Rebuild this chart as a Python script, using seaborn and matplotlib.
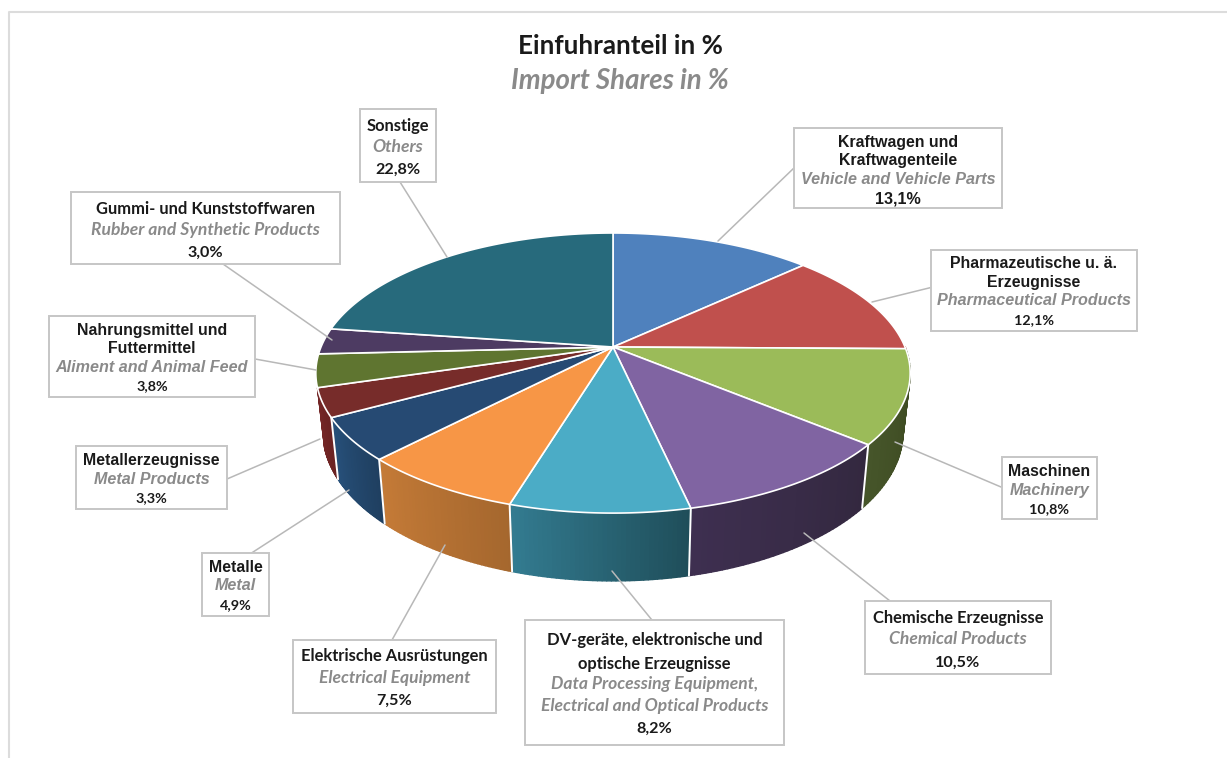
import matplotlib
matplotlib.use("Agg")
import matplotlib.pyplot as plt
from matplotlib.collections import PolyCollection
from matplotlib.colors import to_rgb
from matplotlib.patches import Rectangle
import numpy as np
import seaborn as sns

# Chart data
names_de = ["Kraftwagen und\nKraftwagenteile", "Pharmazeutische u. ä.\nErzeugnisse", "Maschinen",
            "Chemische Erzeugnisse", "DV-geräte, elektronische und\noptische Erzeugnisse",
            "Elektrische Ausrüstungen", "Metalle", "Metallerzeugnisse",
            "Nahrungsmittel und\nFuttermittel", "Gummi- und Kunststoffwaren", "Sonstige"]
names_en = ["Vehicle and Vehicle Parts", "Pharmaceutical Products", "Machinery", "Chemical Products",
            "Data Processing Equipment,\nElectrical and Optical Products", "Electrical Equipment",
            "Metal", "Metal Products", "Aliment and Animal Feed", "Rubber and Synthetic Products", "Others"]
shares = [13.1, 12.1, 10.8, 10.5, 8.2, 7.5, 4.9, 3.3, 3.8, 3.0, 22.8]
share_labels = ["13,1%", "12,1%", "10,8%", "10,5%", "8,2%", "7,5%", "4,9%", "3,3%", "3,8%", "3,0%", "22,8%"]

top_colors = ["#4f81bd", "#c0504d", "#9bbb59", "#8064a2", "#4bacc6", "#f79646",
              "#264a73", "#772c2a", "#5f7530", "#4d3b62", "#276a7c"]
side_left = ["#4f81bd", "#c0504d", "#46552a", "#3e2f50", "#337b90", "#c47a37",
             "#27507a", "#732626", "#5f7530", "#4d3b62", "#276a7c"]
side_right = ["#4f81bd", "#c0504d", "#3a471e", "#33283f", "#1f4e5a", "#a5672e",
              "#1f3f60", "#6a2222", "#5f7530", "#4d3b62", "#276a7c"]

# Label boxes in pixels: left, top, right, bottom
boxes = [(794, 128, 1002, 208), (931, 250, 1137, 331), (1002, 457, 1097, 519), (865, 601, 1051, 674),
         (525, 620, 784, 745), (293, 640, 496, 713), (202, 553, 269, 616), (76, 446, 227, 509),
         (49, 316, 255, 397), (71, 192, 340, 264), (360, 109, 436, 182)]
line_ys = [[141, 159, 178, 197], [262, 281, 299, 319], [470, 489, 508], [617, 638, 661],
           [639, 662, 683, 705, 727], [655, 677, 699], [566, 584, 604], [459, 478, 497],
           [329, 347, 366, 385], [207, 229, 251], [124, 145, 168]]
# font per box: name, translation, share (a = Arial like, c = Calibri like, s = small Calibri like)
box_fonts = ["aaa", "aas", "aas", "ccc", "ccc", "ccc", "aas", "aas", "aas", "ccc", "ccc"]
leaders = [((795, 167), (718, 241)), ((933, 287), (872, 302)), ((1001, 487), (895, 442)),
           ((890, 601), (804, 533)), ((656, 625), (612, 571)), ((392, 640), (445, 545)),
           ((250, 554), (349, 490)), ((227, 479), (320, 439)), ((255, 359), (316, 370)),
           ((223, 264), (332, 340)), ((400, 182), (447, 257))]

sns.set_theme(style="white")
fig, ax = plt.subplots(figsize=(12.27, 7.58), dpi=100)
fig.subplots_adjust(0, 0, 1, 1)
ax.set_xlim(0, 1227)
ax.set_ylim(758, 0)
ax.axis("off")

NAME_FONT = {"a": ("Liberation Sans", 11.4), "c": ("Lato", 11.9)}
EN_FONT = {"a": ("Liberation Sans", 11.6), "c": ("Lato", 12.6)}
SHARE_FONT = {"a": ("Liberation Sans", 11.6), "c": ("Lato", 11.6), "s": ("Lato", 10.4)}
CX = 613


def project(t, a, b, cy, k=0.186):
    # perspective view of the pie circle
    den = 1 + k * np.cos(t)
    return np.column_stack([CX + a * np.sin(t) / den, cy - b * np.cos(t) / den])


def top_edge(t):
    return project(t, 292, 135.2, 347)


def low_edge(t):
    return project(t, 285, 144, 404)


# frame of the original picture
ax.plot([8.5, 8.5, 1227], [758, 11.5, 11.5], color="#dcdcdc", lw=1.5)

edges = np.radians(np.concatenate([[0], np.cumsum(shares)]) / np.sum(shares) * 360)

# side walls, only the part facing the viewer (the last visible one is Metallerzeugnisse)
for i in range(len(shares)):
    t0 = max(edges[i], np.radians(90))
    t1 = edges[i + 1]
    if t1 <= t0 or i > 7:
        continue
    steps = np.linspace(t0, t1, 40)
    up, low = top_edge(steps), low_edge(steps)
    # angle runs right to left on screen at the front, so the wall starts with its right colour
    fade = np.linspace(0, 1, 39)
    c_left, c_right = np.array(to_rgb(side_left[i])), np.array(to_rgb(side_right[i]))
    cols = [tuple(c_left * f + c_right * (1 - f)) for f in fade]
    quads = [[up[j], up[j + 1], low[j + 1], low[j]] for j in range(39)]
    ax.add_collection(PolyCollection(quads, facecolors=cols, edgecolors=cols, linewidths=1.0, zorder=2))

# white seams between the walls
for t in edges[1:]:
    if np.radians(92) < t < np.radians(250):
        t_arr = np.array([t])
        seam = np.vstack([top_edge(t_arr), low_edge(t_arr)])
        ax.plot(seam[:, 0], seam[:, 1], color="white", lw=1.4, zorder=3)

# top of the pie
for i in range(len(shares)):
    rim = top_edge(np.linspace(edges[i], edges[i + 1], 80))
    pts = np.vstack([[CX, 347], rim])
    ax.fill(pts[:, 0], pts[:, 1], facecolor=top_colors[i], edgecolor="white", lw=1.2, zorder=4)

# leader lines
for start, end in leaders:
    ax.plot([start[0], end[0]], [start[1], end[1]], color="#b8b8b8", lw=1.1, zorder=5)

# label boxes
for i, (x0, y0, x1, y1) in enumerate(boxes):
    ax.add_patch(Rectangle((x0, y0), x1 - x0, y1 - y0, facecolor="white", edgecolor="#c6c6c6", lw=1.4, zorder=6))
    rows = [(s, "k", "normal", NAME_FONT[box_fonts[i][0]]) for s in names_de[i].split("\n")]
    rows += [(s, "#8a8a8a", "italic", EN_FONT[box_fonts[i][1] if box_fonts[i][1] != "s" else "c"])
             for s in names_en[i].split("\n")]
    rows += [(share_labels[i], "k", "normal", SHARE_FONT[box_fonts[i][2]])]
    for (s, col, style, f), y in zip(rows, line_ys[i]):
        ax.text((x0 + x1) / 2, y + 1.5, s, color=col, style=style, weight="bold", family=f[0],
                fontsize=f[1], ha="center", va="center", zorder=7)

ax.text(620, 46.5, "Einfuhranteil in %", color="k", weight="bold", family="Lato", fontsize=18.7,
        ha="center", va="center")
ax.text(620, 81.5, "Import Shares in %", color="#8a8a8a", weight="bold", style="italic", family="Lato",
        fontsize=19.9, ha="center", va="center")

fig.savefig("out.png", dpi=100)
